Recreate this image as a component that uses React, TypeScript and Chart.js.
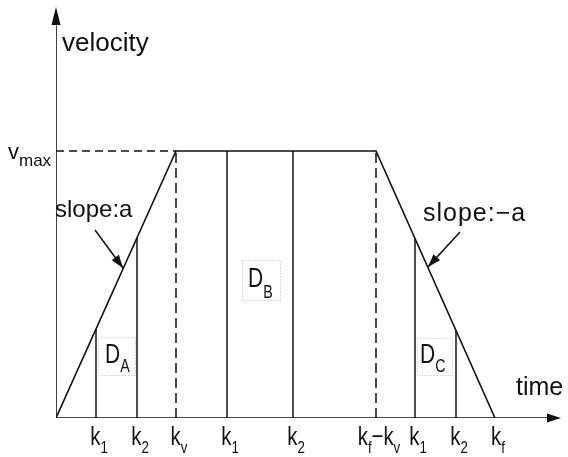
import React, { useEffect, useRef } from "react";
import { Chart, registerables } from "chart.js";

Chart.register(...registerables);

// ---- data (time in arbitrary units, velocity normalised to v_max = 1) ----
const profileTime = [0, 12.0, 32.0, 43.9];
const profileVel = [0, 1, 1, 0];
const vMax = 1;
const tickTimes = [4.0, 8.1, 12.0, 17.1, 23.7, 32.0, 35.9, 40.0, 43.9];
const tickLabels = ["k_1", "k_2", "k_v", "k_1", "k_2", "k_f−k_v", "k_1", "k_2", "k_f"];
// accelerating strip D_A
const accelStripTime = [4.0, 8.1];
const accelStripVel = [0.333, 0.674];
// constant strip D_B
const constStripTime = [17.1, 23.7];
// decelerating strip D_C
const decelStripTime = [35.9, 40.0];
const decelStripVel = [0.672, 0.328];
const regionLabels = ["D_A", "D_B", "D_C"];
const xMax = 50.4;
const yMax = 1.5356;

const FONT = "'Liberation Sans', Arial, sans-serif";
const INK = "#111";

type Seg = { t: string; sub: boolean };
function parseRich(s: string): Seg[] {
  const out: Seg[] = [];
  let i = 0;
  while (i < s.length) {
    if (s[i] === "_") {
      i++;
      if (s[i] === "{") {
        const j = s.indexOf("}", i);
        out.push({ t: s.slice(i + 1, j), sub: true });
        i = j + 1;
      } else {
        out.push({ t: s[i], sub: true });
        i++;
      }
    } else {
      let j = i;
      while (j < s.length && s[j] !== "_") j++;
      out.push({ t: s.slice(i, j), sub: false });
      i = j;
    }
  }
  return out;
}

function drawRich(
  ctx: CanvasRenderingContext2D,
  s: string,
  x: number,
  y: number,
  o: { size: number; subSize: number; subDrop: number; scaleX?: number; align?: string }
) {
  const segs = parseRich(s);
  const sx = o.scaleX ?? 1;
  ctx.save();
  ctx.translate(x, y);
  ctx.scale(sx, 1);
  ctx.textAlign = "left";
  ctx.textBaseline = "alphabetic";
  ctx.fillStyle = INK;
  let w = 0;
  for (const sg of segs) {
    ctx.font = `${sg.sub ? o.subSize : o.size}px ${FONT}`;
    w += ctx.measureText(sg.t).width;
  }
  let cx = o.align === "center" ? -w / 2 : o.align === "right" ? -w : 0;
  for (const sg of segs) {
    ctx.font = `${sg.sub ? o.subSize : o.size}px ${FONT}`;
    ctx.fillText(sg.t, cx, sg.sub ? o.subDrop : 0);
    cx += ctx.measureText(sg.t).width;
  }
  ctx.restore();
}

function arrowHead(ctx: CanvasRenderingContext2D, fx: number, fy: number, tx: number, ty: number, len: number, hw: number) {
  const a = Math.atan2(ty - fy, tx - fx);
  const bx = tx - Math.cos(a) * len;
  const by = ty - Math.sin(a) * len;
  ctx.beginPath();
  ctx.moveTo(tx, ty);
  ctx.lineTo(bx + Math.sin(a) * hw, by - Math.cos(a) * hw);
  ctx.lineTo(bx - Math.sin(a) * hw, by + Math.cos(a) * hw);
  ctx.closePath();
  ctx.fill();
}

const seg = (x1: number, y1: number, x2: number, y2: number) => [
  { x: x1, y: y1 },
  { x: x2, y: y2 },
];

const annotationPlugin = {
  id: "annot",
  afterDatasetsDraw(chart: any) {
    const ctx: CanvasRenderingContext2D = chart.ctx;
    const xs = chart.scales.x;
    const ys = chart.scales.y;
    const px = (t: number) => xs.getPixelForValue(t);
    const py = (v: number) => ys.getPixelForValue(v);
    ctx.save();
    ctx.fillStyle = INK;
    ctx.strokeStyle = INK;

    // axis arrowheads
    arrowHead(ctx, px(0), py(0), px(0), py(yMax) - 1, 18, 4.5);
    arrowHead(ctx, px(0), py(0), px(xMax) + 1, py(0), 14, 4.5);

    // slope arrows
    const sa = [px(3.9), py(0.704), px(6.7), py(0.562)];
    const sb = [px(40.4), py(0.697), px(37.2), py(0.566)];
    ctx.lineWidth = 1.5;
    for (const s of [sa, sb]) {
      ctx.beginPath();
      ctx.moveTo(s[0], s[1]);
      ctx.lineTo(s[2], s[3]);
      ctx.stroke();
      arrowHead(ctx, s[0], s[1], s[2], s[3], 13, 4.5);
    }

    // axis titles
    ctx.fillStyle = INK;
    ctx.textBaseline = "alphabetic";
    ctx.textAlign = "left";
    ctx.font = `26px ${FONT}`;
    ctx.fillText("velocity", px(0.6), py(1.3745));
    ctx.font = `25px ${FONT}`;
    ctx.fillText("time", px(46.0), py(0.0866));

    // v_max
    drawRich(ctx, "v_{max}", 8, py(vMax) + 8, { size: 22, subSize: 17, subDrop: 7 });

    // slope labels
    ctx.font = `24px ${FONT}`;
    ctx.fillText("slope:a", px(-0.1), py(0.753));
    ctx.font = `25px ${FONT}`;
    (ctx as any).letterSpacing = "1px";
    ctx.fillText("slope:−a", px(36.7), py(0.738));
    (ctx as any).letterSpacing = "0px";

    // tick labels
    tickTimes.forEach((t, i) => {
      drawRich(ctx, tickLabels[i], px(t) + 3, py(0) + 27, {
        size: 26,
        subSize: 17,
        subDrop: 8,
        scaleX: 0.78,
        align: "center",
      });
    });

    // region labels with dotted boxes
    const boxes = [
      { t0: 4.2, t1: 7.9, v0: 0.161, v1: 0.303, lx: 4.9, lv: 0.206, drop: 9 },
      { t0: 18.6, t1: 22.4, v0: 0.442, v1: 0.592, lx: 19.2, lv: 0.490, drop: 11 },
      { t0: 36.1, t1: 39.6, v0: 0.161, v1: 0.300, lx: 36.4, lv: 0.206, drop: 9 },
    ];
    boxes.forEach((b, i) => {
      ctx.save();
      ctx.strokeStyle = "#b8b8b8";
      ctx.lineWidth = 1;
      ctx.setLineDash([1, 2]);
      ctx.strokeRect(px(b.t0) + 0.5, py(b.v1) + 0.5, px(b.t1) - px(b.t0), py(b.v0) - py(b.v1));
      ctx.restore();
      drawRich(ctx, regionLabels[i], px(b.lx), py(b.lv), {
        size: 28,
        subSize: 19,
        subDrop: b.drop,
        scaleX: 0.75,
      });
    });
    ctx.restore();
  },
};

export default function App() {
  const ref = useRef<HTMLCanvasElement | null>(null);
  useEffect(() => {
    if (!ref.current) return;
    const solid = { borderColor: INK, borderWidth: 1.6, pointRadius: 0, showLine: true, fill: false, tension: 0 };
    const dashed = { ...solid, borderWidth: 1.5 };
    const datasets: any[] = [
      // axes
      { ...solid, data: seg(0, 0, 49.4, 0) },
      { ...solid, data: seg(0, 0, 0, 1.47) },
      // trapezoidal profile
      { ...solid, data: profileTime.map((t, i) => ({ x: t, y: profileVel[i] })) },
      // v_max reference
      { ...dashed, borderDash: [8, 5], data: seg(0, vMax, profileTime[1], vMax) },
      { ...dashed, borderDash: [10, 5], data: seg(profileTime[1], 0, profileTime[1], vMax) },
      { ...dashed, borderDash: [10, 5], data: seg(profileTime[2], 0, profileTime[2], vMax) },
      // D_A strip
      ...accelStripTime.map((t, i) => ({ ...solid, borderColor: "#222", data: seg(t, 0, t, accelStripVel[i]) })),
      // D_B strip
      ...constStripTime.map((t) => ({ ...solid, borderColor: "#222", data: seg(t, 0, t, vMax) })),
      // D_C strip
      ...decelStripTime.map((t, i) => ({ ...solid, borderColor: "#222", data: seg(t, 0, t, decelStripVel[i]) })),
    ];
    const chart = new Chart(ref.current, {
      type: "scatter",
      data: { datasets },
      options: {
        animation: false,
        responsive: false,
        events: [],
        layout: { padding: { left: 56, right: 8, top: 8, bottom: 39 } },
        plugins: { legend: { display: false }, tooltip: { enabled: false } },
        scales: {
          x: { type: "linear", display: false, min: 0, max: xMax },
          y: { type: "linear", display: false, min: 0, max: yMax },
        },
      },
      plugins: [annotationPlugin],
    });
    return () => chart.destroy();
  }, []);
  return (
    <div style={{ position: "fixed", left: 0, top: 0, width: 568, height: 457, background: "#fff" }}>
      <canvas ref={ref} width={568} height={457} style={{ display: "block" }} />
    </div>
  );
}
